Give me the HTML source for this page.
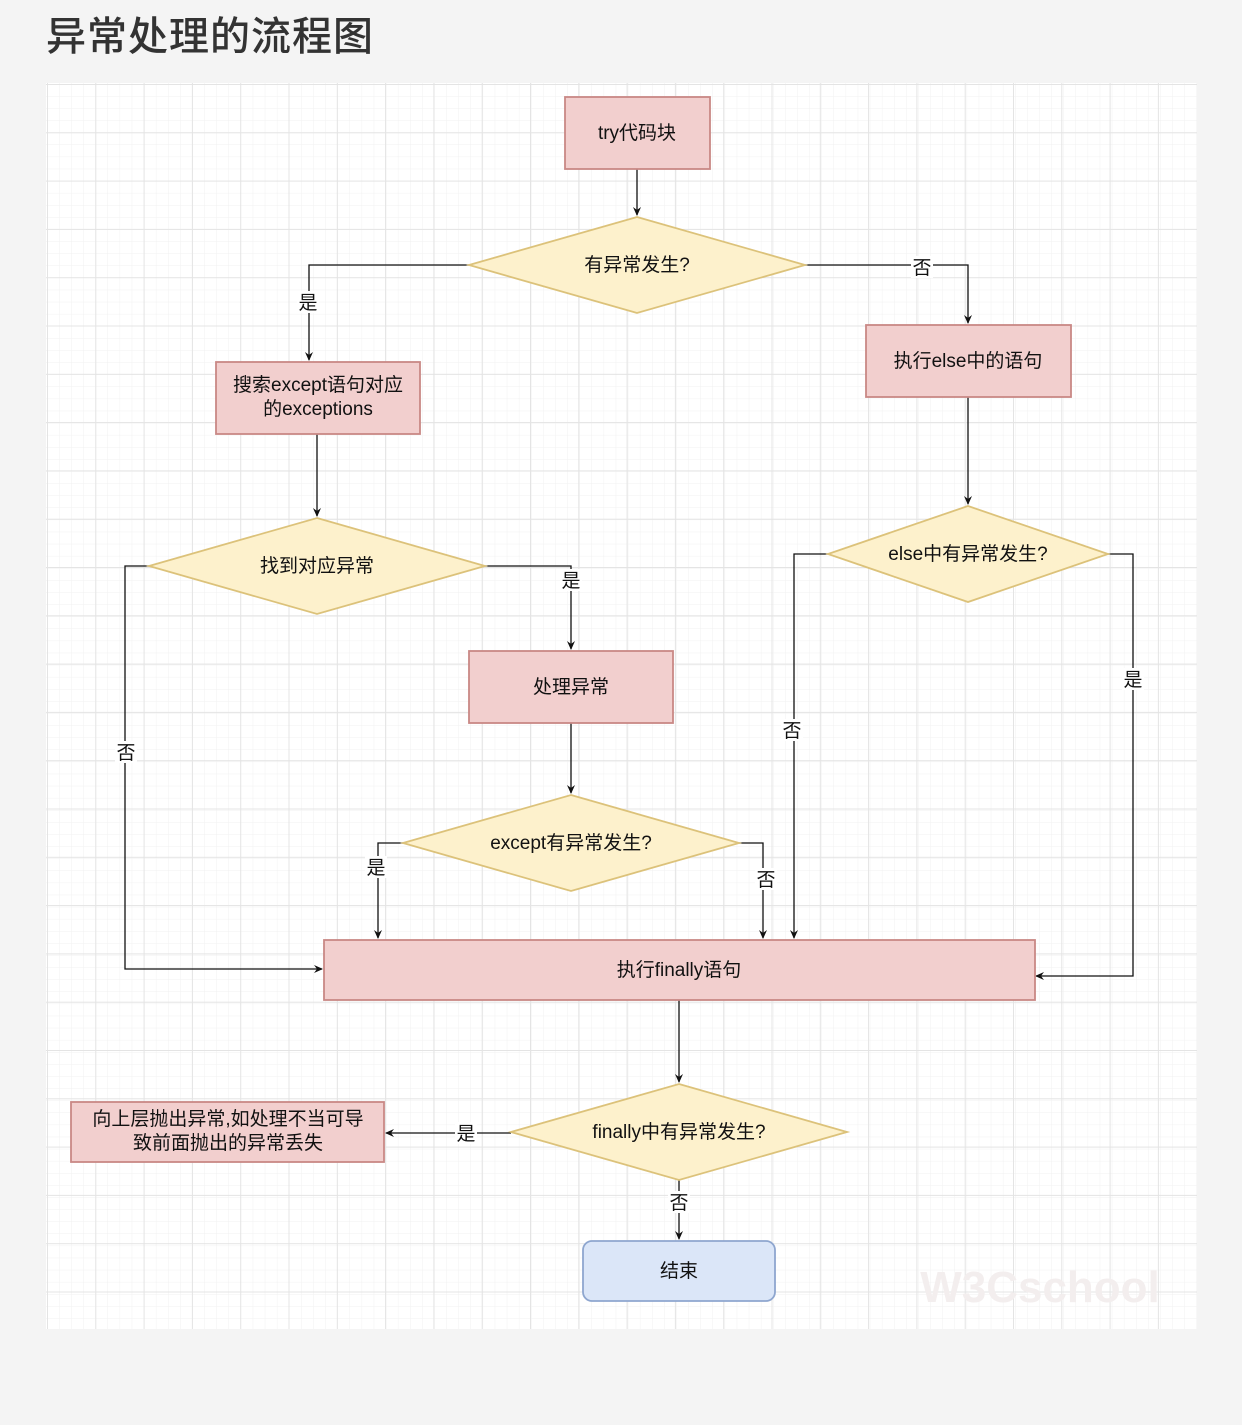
<!DOCTYPE html>
<html><head><meta charset="utf-8"><style>
html,body{margin:0;padding:0;background:#f4f4f4;}
body{width:1242px;height:1425px;position:relative;overflow:hidden;font-family:"Liberation Sans","Noto Sans CJK SC",sans-serif;}
h1{position:absolute;left:46px;top:4px;margin:0;font-size:40px;font-weight:500;color:#333;font-family:"Noto Sans CJK SC","Liberation Sans",sans-serif;letter-spacing:1px;}
svg{position:absolute;left:0;top:0;}
text{font-family:"Liberation Sans","Noto Sans CJK SC",sans-serif;font-size:19px;fill:#111;}
</style></head><body>
<h1>异常处理的流程图</h1>
<svg width="1242" height="1425" viewBox="0 0 1242 1425">
<defs>
<pattern id="mn" x="47" y="84" width="12.1" height="12.1" patternUnits="userSpaceOnUse">
<path d="M0 0H12.1M0 0V12.1" stroke="#f1f1f1" stroke-width="1" fill="none"/></pattern>
<pattern id="mj" x="47" y="84" width="48.3" height="48.3" patternUnits="userSpaceOnUse">
<path d="M0 0.5H48.3M0.5 0V48.3" stroke="#e4e4e4" stroke-width="1" fill="none"/></pattern>
<marker id="a" markerWidth="10" markerHeight="10" refX="8" refY="5" orient="auto" markerUnits="userSpaceOnUse">
<path d="M0 1L9 5L0 9L3 5Z" fill="#111"/></marker>
</defs>
<rect x="46" y="83" width="1151" height="1246" fill="#fff"/>
<rect x="46" y="83" width="1151" height="1246" fill="url(#mn)"/>
<rect x="46" y="83" width="1151" height="1246" fill="url(#mj)"/>
<text x="1040" y="1302" text-anchor="middle" style="font-size:44px;font-weight:bold;fill:#f3eeee">W3Cschool</text>

<g stroke="#111" stroke-width="1.3" fill="none">
<path d="M637 169V215" marker-end="url(#a)"/>
<path d="M469 265H309V360" marker-end="url(#a)"/>
<path d="M805 265H968V323" marker-end="url(#a)"/>
<path d="M968 397V504" marker-end="url(#a)"/>
<path d="M317 434V516" marker-end="url(#a)"/>
<path d="M485 566H571V649" marker-end="url(#a)"/>
<path d="M571 723V793" marker-end="url(#a)"/>
<path d="M403 843H378V938" marker-end="url(#a)"/>
<path d="M739 843H763V938" marker-end="url(#a)"/>
<path d="M149 566H125V969H322" marker-end="url(#a)"/>
<path d="M828 554H794V938" marker-end="url(#a)"/>
<path d="M1108 554H1133V976H1036" marker-end="url(#a)"/>
<path d="M679 1000V1082" marker-end="url(#a)"/>
<path d="M511 1133H386" marker-end="url(#a)"/>
<path d="M679 1180V1239" marker-end="url(#a)"/>
</g>

<g fill="#f2cfce" stroke="#c98885" stroke-width="1.8">
<rect x="565" y="97" width="145" height="72"/>
<rect x="216" y="362" width="204" height="72"/>
<rect x="866" y="325" width="205" height="72"/>
<rect x="469" y="651" width="204" height="72"/>
<rect x="324" y="940" width="711" height="60"/>
<rect x="71" y="1102" width="313" height="60"/>
</g>
<rect x="583" y="1241" width="192" height="60" rx="9" fill="#dbe6f8" stroke="#8ea6cf" stroke-width="1.8"/>
<g fill="#fdf1cc" stroke="#dcc27a" stroke-width="1.8">
<path d="M637 217L805 265L637 313L469 265Z"/>
<path d="M968 506L1108 554L968 602L828 554Z"/>
<path d="M317 518L485 566L317 614L149 566Z"/>
<path d="M571 795L739 843L571 891L403 843Z"/>
<path d="M679 1084L847 1132L679 1180L511 1132Z"/>
</g>

<g text-anchor="middle">
<text x="637" y="139">try代码块</text>
<text x="637" y="271">有异常发生?</text>
<text x="318" y="391">搜索except语句对应</text>
<text x="318" y="415">的exceptions</text>
<text x="968" y="367">执行else中的语句</text>
<text x="968" y="560">else中有异常发生?</text>
<text x="317" y="572">找到对应异常</text>
<text x="571" y="693">处理异常</text>
<text x="571" y="849">except有异常发生?</text>
<text x="679" y="976">执行finally语句</text>
<text x="679" y="1138">finally中有异常发生?</text>
<text x="228" y="1125">向上层抛出异常,如处理不当可导</text>
<text x="228" y="1149">致前面抛出的异常丢失</text>
<text x="679" y="1277">结束</text>
</g>

<g fill="#fff">
<rect x="297" y="291" width="22" height="22"/>
<rect x="911" y="256" width="22" height="22"/>
<rect x="560" y="569" width="22" height="22"/>
<rect x="365" y="856" width="22" height="22"/>
<rect x="755" y="868" width="22" height="22"/>
<rect x="115" y="741" width="22" height="22"/>
<rect x="781" y="719" width="22" height="22"/>
<rect x="1122" y="668" width="22" height="22"/>
<rect x="455" y="1122" width="22" height="22"/>
<rect x="668" y="1191" width="22" height="22"/>
</g>
<g text-anchor="middle">
<text x="308" y="309">是</text>
<text x="922" y="274">否</text>
<text x="571" y="587">是</text>
<text x="376" y="874">是</text>
<text x="766" y="886">否</text>
<text x="126" y="759">否</text>
<text x="792" y="737">否</text>
<text x="1133" y="686">是</text>
<text x="466" y="1140">是</text>
<text x="679" y="1209">否</text>
</g>
</svg>
</body></html>
